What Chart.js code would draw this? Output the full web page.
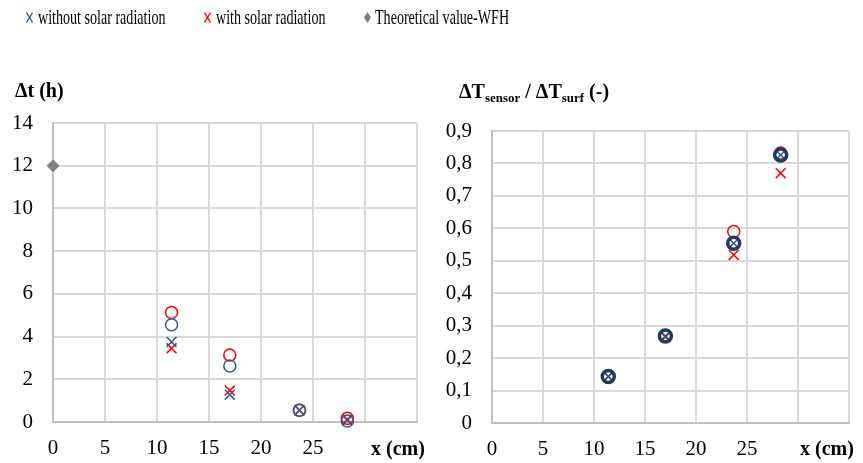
<!DOCTYPE html>
<html>
<head>
<meta charset="utf-8">
<script src="https://cdn.jsdelivr.net/npm/chart.js@4.4.1/dist/chart.umd.min.js"></script>
<style>
  html, body { margin:0; padding:0; background:#fff; }
  #wrap { position:relative; width:863px; height:463px; overflow:hidden; font-family:"Liberation Serif","Times New Roman",serif; color:#000; }
  .box { position:absolute; top:0; height:463px; }
  #b1 { left:0; width:431px; }
  #b2 { left:431px; width:432px; }
  .sym { position:absolute; top:12px; }
  .legend { position:absolute; top:3px; height:28px; font-size:22px; line-height:28px; white-space:nowrap; transform-origin:0 50%; transform:scaleX(0.64); }
  .title { position:absolute; font-weight:bold; font-size:20px; white-space:nowrap; }
  .title sub { font-size:13px; vertical-align:-4px; }
</style>
</head>
<body>
<div id="wrap">
  <div class="box" id="b1"><canvas id="c1"></canvas></div>
  <div class="box" id="b2"><canvas id="c2"></canvas></div>
  <svg class="sym" style="left:26px" width="7" height="11"><path d="M0.5 0.5 L6.5 10.5 M6.5 0.5 L0.5 10.5" stroke="#2F5597" stroke-width="1.4" fill="none"/></svg>
  <div class="legend" style="left:38px;">without solar radiation</div>
  <svg class="sym" style="left:204px" width="7" height="11"><path d="M0.5 0.5 L6.5 10.5 M6.5 0.5 L0.5 10.5" stroke="#FF0000" stroke-width="1.4" fill="none"/></svg>
  <div class="legend" style="left:216px;">with solar radiation</div>
  <svg class="sym" style="left:364px" width="7" height="11"><path d="M3.5 0 L7 5.5 L3.5 11 L0 5.5 Z" fill="#7F7F7F"/></svg>
  <div class="legend" style="left:375px;">Theoretical value-WFH</div>
  <div class="title" style="left:15px;top:79px;">Δt (h)</div>
  <div class="title" style="left:459px;top:80px;">ΔT<sub>sensor</sub> / ΔT<sub>surf</sub> (-)</div>
  <div class="title" style="left:371px;top:437px;">x (cm)</div>
  <div class="title" style="left:800px;top:437px;">x (cm)</div>
</div>
<script>
// ---- data ----
const xPos = [11.4, 17.0, 23.7, 28.3];
const dtWithoutCross = [3.75, 1.28, 0.55, 0.08];
const dtWithCross    = [3.45, 1.47, 0.55, 0.12];
const dtWithoutCircle = [4.55, 2.62, 0.55, 0.05];
const dtWithCircle    = [5.13, 3.14, 0.55, 0.17];
const wfhX = [0];
const wfhY = [12];
const rWithoutCross = [0.143, 0.268, 0.554, 0.826];
const rWithCross    = [0.143, 0.265, 0.518, 0.770];
const rWithoutCircle = [0.143, 0.268, 0.554, 0.826];
const rWithCircle    = [0.145, 0.270, 0.590, 0.832];
const xTickMax = 25;

const BLUE = '#2F5597', RED = '#FF0000', GREY = '#7F7F7F', NAVY = '#1F3864';
Chart.defaults.font.family = '"Liberation Serif","Times New Roman",serif';
Chart.defaults.color = '#000';

function pts(xs, ys) { return xs.map((x, i) => ({ x: x, y: ys[i] })); }

function ds(data, style, color, radius, bw) {
  return {
    data: data, showLine: false, pointStyle: style,
    pointRadius: radius, pointHoverRadius: radius,
    pointBorderColor: color, pointBackgroundColor: style === 'rectRot' ? color : 'rgba(0,0,0,0)',
    pointBorderWidth: bw, borderColor: color, backgroundColor: color, clip: false
  };
}

function makeOpts(yMax, yStep, yFmt, yW, xH, pad) {
  return {
    responsive: true, maintainAspectRatio: false, animation: false,
    layout: { padding: pad },
    plugins: { legend: { display: false }, tooltip: { enabled: false } },
    scales: {
      x: {
        type: 'linear', min: 0, max: 35,
        ticks: { stepSize: 5, padding: 14, font: { size: 21 },
          callback: v => (v <= xTickMax ? String(v) : '') },
        grid: { color: '#D9D9D9', lineWidth: 2, drawTicks: false },
        border: { color: '#BFBFBF', width: 2 },
        afterFit: s => { s.height = xH; }
      },
      y: {
        type: 'linear', min: 0, max: yMax,
        ticks: { stepSize: yStep, padding: 20, font: { size: 21 }, callback: yFmt },
        grid: { color: '#D9D9D9', lineWidth: 2, drawTicks: false },
        border: { color: '#BFBFBF', width: 2 },
        afterFit: s => { s.width = yW; }
      }
    }
  };
}

new Chart(document.getElementById('c1'), {
  type: 'scatter',
  data: { datasets: [
    ds(pts(xPos, dtWithoutCircle), 'circle', BLUE, 6, 1.5),
    ds(pts(xPos, dtWithoutCross), 'crossRot', BLUE, 7, 1.5),
    ds(pts(xPos, dtWithCircle), 'circle', RED, 6, 1.5),
    ds(pts(xPos, dtWithCross), 'crossRot', RED, 7, 1.5),
    ds(pts(wfhX, wfhY), 'rectRot', GREY, 6, 1)
  ]},
  options: makeOpts(14, 2, v => String(v), 53, 41, { left: 0, right: 3, top: 123, bottom: 0 })
});

new Chart(document.getElementById('c2'), {
  type: 'scatter',
  data: { datasets: [
    ds(pts(xPos, rWithoutCircle), 'circle', NAVY, 6, 3.5),
    ds(pts(xPos, rWithoutCross), 'crossRot', BLUE, 5, 1.5),
    ds(pts(xPos, rWithCircle), 'circle', RED, 6, 1.5),
    ds(pts(xPos, rWithCross), 'crossRot', RED, 7, 1.5)
  ]},
  options: makeOpts(0.9, 0.1, v => (Math.abs(v) < 1e-9 ? '0' : v.toFixed(1).replace('.', ',')), 61, 40, { left: 0, right: 7, top: 131, bottom: 0 })
});
</script>
</body>
</html>
